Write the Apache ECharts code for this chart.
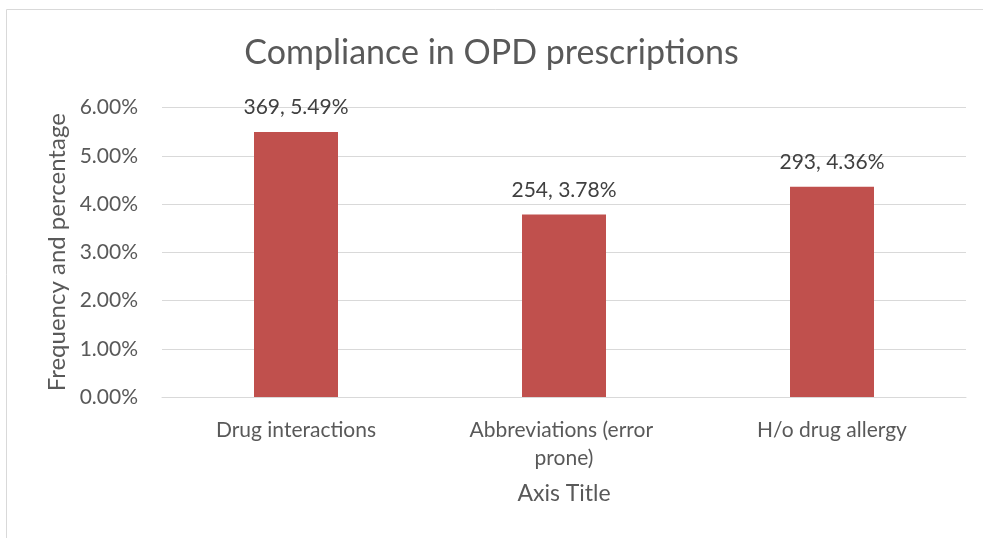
<!DOCTYPE html>
<html>
<head>
<meta charset="utf-8">
<script src="https://cdn.jsdelivr.net/npm/echarts@6/dist/echarts.min.js"></script>
<style>
    html, body { margin: 0; padding: 0; background: #fff; }
    #chart { width: 983px; height: 538px; }
</style>
</head>
<body>
<div id="chart"></div>
<script>
// chart data
var categories = ['Drug interactions', 'Abbreviations (error prone)', 'H/o drug allergy'];
var counts = [369, 254, 293];
var shares = [0.0549, 0.0378, 0.0436];

var fontName = 'Lato';
var textGrey = '#595959';

var chartDom = document.getElementById('chart');
var myChart = echarts.init(chartDom);
var option = {
    animation: false,
    textStyle: { fontFamily: fontName },
    graphic: [
        {
            type: 'rect',
            shape: { x: 6.5, y: 9.5, width: 1200, height: 1000 },
            style: { fill: null, stroke: '#d9d9d9', lineWidth: 1 }
        }
    ],
    title: {
        text: 'Compliance in OPD prescriptions',
        left: 'center',
        top: 31,
        textStyle: { fontSize: 34, fontWeight: 'normal', color: textGrey, fontFamily: fontName }
    },
    grid: {
        left: 162,
        right: 17,
        top: 107.5,
        bottom: 141,
        containLabel: false
    },
    xAxis: {
        type: 'category',
        data: categories,
        name: 'Axis Title',
        nameLocation: 'middle',
        nameGap: 85,
        nameTextStyle: { fontSize: 23, color: textGrey },
        axisLine: { lineStyle: { color: '#d9d9d9', width: 1 } },
        axisTick: { show: false },
        axisLabel: {
            fontSize: 21,
            color: textGrey,
            margin: 19,
            width: 225,
            overflow: 'break',
            lineHeight: 28,
            interval: 0
        }
    },
    yAxis: {
        type: 'value',
        min: 0,
        max: 0.06,
        interval: 0.01,
        name: 'Frequency and percentage',
        nameLocation: 'middle',
        nameGap: 91,
        nameTextStyle: { fontSize: 24, color: textGrey },
        axisLine: { show: false },
        axisTick: { show: false },
        splitLine: { lineStyle: { color: '#d9d9d9', width: 1 } },
        axisLabel: {
            fontSize: 21,
            color: textGrey,
            margin: 24,
            formatter: function (v) {
                return (v * 100).toFixed(2) + '%';
            }
        }
    },
    series: [
        {
            name: 'Compliance',
            type: 'bar',
            data: shares,
            barWidth: 84,
            itemStyle: { color: '#C0504D' },
            label: {
                show: true,
                position: 'top',
                distance: 14,
                fontSize: 21,
                color: '#404040',
                formatter: function (p) {
                    return counts[p.dataIndex] + ', ' + (p.value * 100).toFixed(2) + '%';
                }
            }
        }
    ]
};
myChart.setOption(option);
</script>
</body>
</html>
